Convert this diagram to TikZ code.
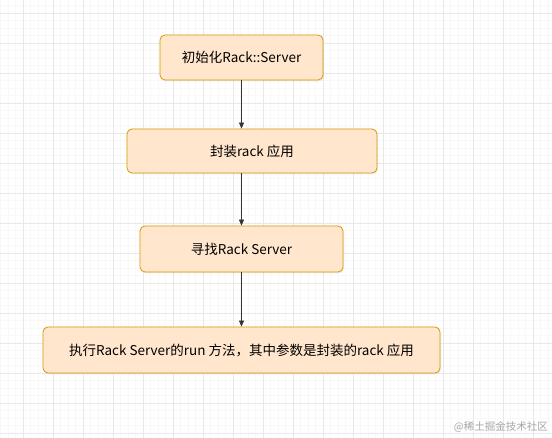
\documentclass[tikz,border=0pt]{standalone}
\usepackage{fontspec}
\setmainfont{Noto Sans CJK SC}
\usetikzlibrary{arrows.meta,shadows}
\definecolor{boxfill}{HTML}{FFE6CC}
\definecolor{boxdraw}{HTML}{D79B00}
\definecolor{gridmajor}{HTML}{E8E8E8}
\definecolor{gridminor}{HTML}{F8F8F8}
\definecolor{arrowc}{HTML}{333333}
\tikzset{
  flowbox/.style={draw=boxdraw, fill=boxfill, rounded corners=5pt, line width=0.8pt,
    inner sep=0pt, font=\fontsize{13.5}{15}\selectfont, text=black,
    drop shadow={opacity=0.12, shadow xshift=1pt, shadow yshift=-1.5pt}},
  flowarrow/.style={draw=arrowc, line width=0.8pt, -{Triangle[length=6pt,width=5pt]}},
  watermark/.style={text=black!35, font=\fontsize{10.5}{12}\selectfont, anchor=east, inner sep=0pt}
}
\begin{document}
\begin{tikzpicture}[x=1pt,y=-1pt]
\useasboundingbox (0,0) rectangle (552,438);
\fill[white] (0,0) rectangle (552,438);
% minor grid
\foreach \i in {0,...,74} {
  \draw[gridminor, line width=0.5pt] ({0.5+7.5*\i},0) -- ({0.5+7.5*\i},438);
}
\foreach \j in {0,...,59} {
  \draw[gridminor, line width=0.5pt] (0,{5.5+7.5*\j}) -- (552,{5.5+7.5*\j});
}
% major grid
\foreach \i in {0,...,18} {
  \draw[gridmajor, line width=0.6pt] ({23+30*\i},0) -- ({23+30*\i},438);
}
\foreach \j in {0,...,14} {
  \draw[gridmajor, line width=0.6pt] (0,{13+30*\j}) -- (552,{13+30*\j});
}
% boxes
\node[flowbox, minimum width=163pt, minimum height=45pt] (b1) at (241.5,57.5) {初始化Rack::Server};
\node[flowbox, minimum width=250pt, minimum height=44pt] (b2) at (252,151) {封装rack 应用};
\node[flowbox, minimum width=203pt, minimum height=46pt] (b3) at (241.5,249) {寻找Rack Server};
\node[flowbox, minimum width=397pt, minimum height=46pt] (b4) at (241.5,350) {执行Rack Server的run 方法，其中参数是封装的rack 应用};
% arrows
\draw[flowarrow] (b1.south) -- (b1.south |- b2.north);
\draw[flowarrow] (b1.south |- b2.south) -- (b3.north);
\draw[flowarrow] (b3.south) -- (b4.north);
% watermark
\node[watermark] (wm) at (548,427) {@稀土掘金技术社区};
\end{tikzpicture}
\end{document}
